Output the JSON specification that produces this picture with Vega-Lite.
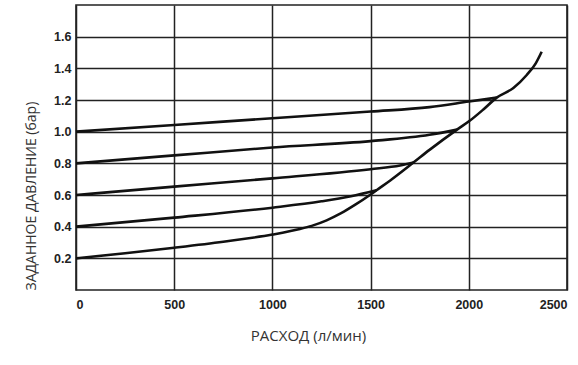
{
  "$schema": "https://vega.github.io/schema/vega-lite/v6.json",
  "width": 491,
  "height": 285,
  "autosize": {"type": "none"},
  "padding": {"left": 76, "top": 5, "right": 11, "bottom": 75},
  "background": "white",
  "config": {
    "view": {"stroke": "#222", "strokeWidth": 1.6},
    "axis": {
      "labelFont": "Liberation Sans",
      "labelFontWeight": "bold",
      "labelFontSize": 12.5,
      "labelColor": "#222",
      "titleFont": "Open Sans",
      "titleFontWeight": "normal",
      "titleFontSize": 14,
      "titleColor": "#333",
      "domain": false,
      "ticks": false,
      "gridColor": "#222",
      "gridWidth": 1.5,
      "gridOpacity": 1
    }
  },
  "data": {
    "values": [
      {"s": "a", "x": 0, "y": 0.2},
      {"s": "a", "x": 250, "y": 0.232},
      {"s": "a", "x": 500, "y": 0.267},
      {"s": "a", "x": 750, "y": 0.305},
      {"s": "a", "x": 1000, "y": 0.35},
      {"s": "a", "x": 1140, "y": 0.385},
      {"s": "a", "x": 1200, "y": 0.405},
      {"s": "a", "x": 1276, "y": 0.44},
      {"s": "a", "x": 1350, "y": 0.485},
      {"s": "a", "x": 1420, "y": 0.537},
      {"s": "a", "x": 1500, "y": 0.603},
      {"s": "a", "x": 1530, "y": 0.63},
      {"s": "a", "x": 1600, "y": 0.692},
      {"s": "a", "x": 1718, "y": 0.805},
      {"s": "a", "x": 1800, "y": 0.885},
      {"s": "a", "x": 1940, "y": 1.013},
      {"s": "a", "x": 2006, "y": 1.07},
      {"s": "a", "x": 2074, "y": 1.14},
      {"s": "a", "x": 2142, "y": 1.215},
      {"s": "a", "x": 2227, "y": 1.276},
      {"s": "a", "x": 2295, "y": 1.358},
      {"s": "a", "x": 2340, "y": 1.43},
      {"s": "a", "x": 2371, "y": 1.505},
      {"s": "b", "x": 0, "y": 0.4},
      {"s": "b", "x": 500, "y": 0.457},
      {"s": "b", "x": 1000, "y": 0.52},
      {"s": "b", "x": 1250, "y": 0.56},
      {"s": "b", "x": 1400, "y": 0.592},
      {"s": "b", "x": 1530, "y": 0.63},
      {"s": "c", "x": 0, "y": 0.6},
      {"s": "c", "x": 500, "y": 0.653},
      {"s": "c", "x": 1000, "y": 0.705},
      {"s": "c", "x": 1500, "y": 0.763},
      {"s": "c", "x": 1650, "y": 0.786},
      {"s": "c", "x": 1718, "y": 0.805},
      {"s": "d", "x": 0, "y": 0.8},
      {"s": "d", "x": 500, "y": 0.85},
      {"s": "d", "x": 1000, "y": 0.9},
      {"s": "d", "x": 1500, "y": 0.94},
      {"s": "d", "x": 1800, "y": 0.98},
      {"s": "d", "x": 1940, "y": 1.013},
      {"s": "e", "x": 0, "y": 1.0},
      {"s": "e", "x": 500, "y": 1.042},
      {"s": "e", "x": 1000, "y": 1.085},
      {"s": "e", "x": 1500, "y": 1.127},
      {"s": "e", "x": 1800, "y": 1.155},
      {"s": "e", "x": 2000, "y": 1.19},
      {"s": "e", "x": 2142, "y": 1.215}
    ]
  },
  "mark": {"type": "line", "color": "#111", "strokeWidth": 2.6, "interpolate": "monotone"},
  "encoding": {
    "x": {
      "field": "x", "type": "quantitative",
      "scale": {"domain": [0, 2500], "nice": false, "zero": false},
      "axis": {
        "values": [0, 500, 1000, 1500, 2000, 2500],
        "format": "d",
        "title": "РАСХОД (л/мин)",
        "titleFontSize": 15,
        "labelPadding": 8,
        "titleX": 232,
        "titleY": 45,
        "titleBaseline": "middle",
        "titleAlign": "center"
      }
    },
    "y": {
      "field": "y", "type": "quantitative",
      "scale": {"domain": [0, 1.8], "nice": false},
      "axis": {
        "values": [0.2, 0.4, 0.6, 0.8, 1.0, 1.2, 1.4, 1.6],
        "format": ".1f",
        "title": "ЗАДАННОЕ ДАВЛЕНИЕ (бар)",
        "labelPadding": 5,
        "titleAngle": -90,
        "titleX": -45,
        "titleY": 285,
        "titleAlign": "left",
        "titleBaseline": "middle"
      }
    },
    "detail": {"field": "s"}
  }
}
